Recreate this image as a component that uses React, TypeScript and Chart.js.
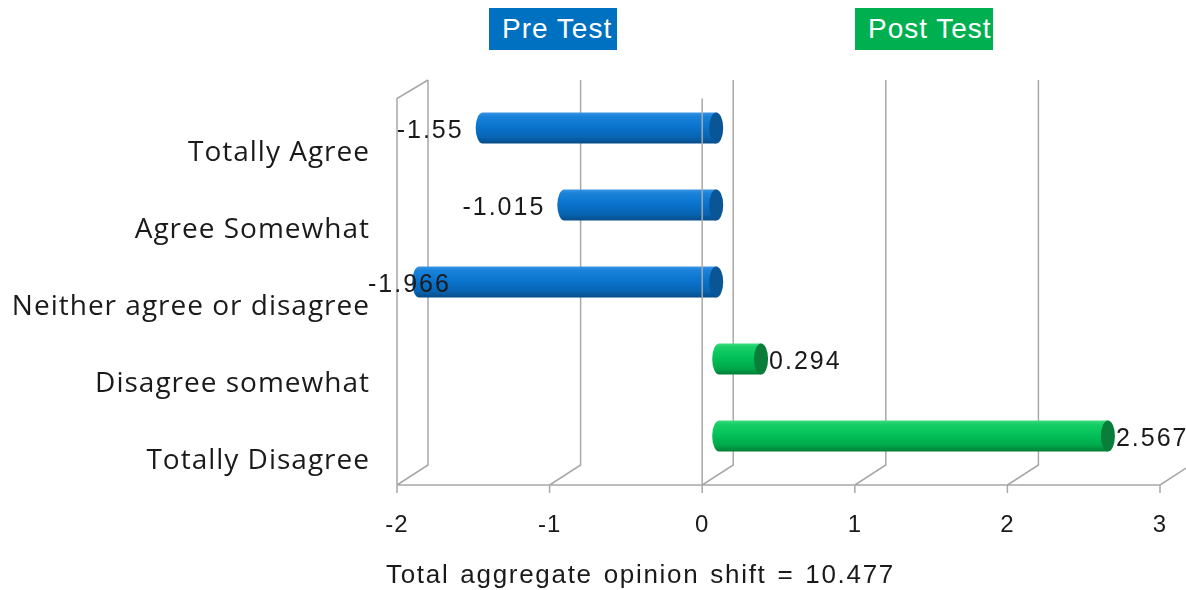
import React, { useEffect, useRef } from "react";
import { Chart, registerables } from "chart.js";
Chart.register(...registerables);

const categories = [
  "Totally Agree",
  "Agree Somewhat",
  "Neither agree or disagree",
  "Disagree somewhat",
  "Totally Disagree",
];
const preTest = [-1.55, -1.015, -1.966, null, null];
const postTest = [null, null, null, 0.294, 2.567];
const seriesNames = ["Pre Test", "Post Test"];
const xMin = -2;
const xMax = 3;
const caption = "Total aggregate opinion shift = 10.477";

const BLUE = "#0070C0";
const GREEN = "#00B050";

const depthPlugin = {
  id: "depth3d",
  beforeDraw(chart: any) {
    (chart.ctx as any).letterSpacing = "1px";
  },
  beforeDatasetsDraw(chart: any) {
    const { ctx, chartArea: a, scales } = chart;
    const x = scales.x;
    const fx = (v: number) => x.getPixelForValue(v) - 10;
    const bx = (v: number) => x.getPixelForValue(v) + 21;
    const fTop = a.top + 9;
    const fBot = a.bottom + 10.5;
    const bTop = a.top - 9.5;
    const bBot = a.bottom - 9.5;
    ctx.save();
    ctx.strokeStyle = "#a8a8a8";
    ctx.lineWidth = 1.5;
    ctx.beginPath();
    x.ticks.forEach((t: any) => {
      const v = t.value;
      ctx.moveTo(bx(v), bTop);
      ctx.lineTo(bx(v), bBot);
      ctx.lineTo(fx(v), fBot);
      ctx.lineTo(fx(v), fBot + 8);
    });
    ctx.moveTo(fx(x.min), fBot);
    ctx.lineTo(fx(x.max), fBot);
    ctx.moveTo(fx(x.min), fBot);
    ctx.lineTo(fx(x.min), fTop);
    ctx.lineTo(bx(x.min), bTop);
    ctx.stroke();
    ctx.restore();
  },
  afterDatasetsDraw(chart: any) {
    const { ctx, chartArea: a, scales } = chart;
    const x = scales.x;
    const rx = 7;
    const items: any[] = [];
    chart.data.datasets.forEach((ds: any, i: number) => {
      const meta = chart.getDatasetMeta(i);
      meta.data.forEach((bar: any, j: number) => {
        const val = ds.data[j];
        if (val === null || val === undefined) return;
        const p = bar.getProps(["x", "base", "y", "height"], true);
        const left = Math.min(p.x, p.base);
        const right = Math.max(p.x, p.base) + 4;
        const h = p.height;
        const top = p.y - h / 2;
        const neg = val < 0;
        const g = ctx.createLinearGradient(0, top, 0, top + h);
        if (neg) {
          g.addColorStop(0, "#3a95e6");
          g.addColorStop(0.12, "#1a82d9");
          g.addColorStop(0.45, "#0a74ce");
          g.addColorStop(0.8, "#0864b2");
          g.addColorStop(1, "#064c88");
        } else {
          g.addColorStop(0, "#3ddc7e");
          g.addColorStop(0.12, "#15cf66");
          g.addColorStop(0.45, "#03c158");
          g.addColorStop(0.8, "#00a84a");
          g.addColorStop(1, "#007d36");
        }
        ctx.save();
        ctx.beginPath();
        ctx.moveTo(left + rx, top);
        ctx.lineTo(right, top);
        ctx.lineTo(right, top + h);
        ctx.lineTo(left + rx, top + h);
        ctx.ellipse(left + rx, p.y, rx, h / 2, 0, Math.PI / 2, (3 * Math.PI) / 2);
        ctx.closePath();
        ctx.fillStyle = g;
        ctx.fill();
        ctx.beginPath();
        ctx.ellipse(right, p.y, rx, h / 2, 0, 0, Math.PI * 2);
        ctx.fillStyle = neg ? "#0a5596" : "#0a7d3a";
        ctx.fill();
        ctx.restore();
        items.push({ val, left, right, y: p.y });
      });
    });
    // front zero line, over the bars
    const zx = x.getPixelForValue(0) - 10;
    ctx.save();
    ctx.strokeStyle = "#a8a8a8";
    ctx.lineWidth = 1.5;
    ctx.beginPath();
    ctx.moveTo(zx, a.top + 9);
    ctx.lineTo(zx, a.bottom + 10.5);
    ctx.stroke();
    ctx.restore();
    // data labels
    ctx.save();
    ctx.font = '25px "Liberation Sans", Arial, sans-serif';
    (ctx as any).letterSpacing = "2px";
    ctx.fillStyle = "#1a1a1a";
    ctx.textBaseline = "middle";
    items.forEach((it) => {
      const txt = String(it.val);
      const w = ctx.measureText(txt).width;
      if (it.val < 0) {
        ctx.textAlign = "right";
        let tx = it.left - 12;
        const minLeft = a.left - 39;
        if (tx - w < minLeft) tx = minLeft + w;
        ctx.fillText(txt, tx, it.y + 3);
      } else {
        ctx.textAlign = "left";
        ctx.fillText(txt, it.right + rx + 1, it.y + 3);
      }
    });
    ctx.restore();
  },
};

export default function App() {
  const ref = useRef<HTMLCanvasElement | null>(null);
  useEffect(() => {
    if (!ref.current) return;
    const chart = new Chart(ref.current, {
      type: "bar",
      data: {
        labels: categories,
        datasets: [
          {
            label: seriesNames[0],
            data: preTest,
            backgroundColor: "rgba(0,0,0,0)",
            borderWidth: 0,
            barThickness: 31,
          },
          {
            label: seriesNames[1],
            data: postTest,
            backgroundColor: "rgba(0,0,0,0)",
            borderWidth: 0,
            barThickness: 31,
          },
        ],
      },
      options: {
        indexAxis: "y",
        responsive: false,
        animation: false,
        devicePixelRatio: 1,
        layout: { padding: { top: 89.5, right: 16, bottom: 0, left: 0 } },
        plugins: { legend: { display: false }, tooltip: { enabled: false } },
        scales: {
          x: {
            type: "linear",
            min: xMin,
            max: xMax,
            stacked: true,
            grid: { display: false, drawTicks: false },
            border: { display: false },
            ticks: {
              stepSize: 1,
              padding: 36,
              labelOffset: -10,
              color: "#1a1a1a",
              font: { family: '"Liberation Sans", Arial, sans-serif', size: 24 },
            },
            afterFit(scale: any) {
              scale.height = 115.5;
              scale.paddingLeft = 0;
              scale.paddingRight = 0;
            },
          },
          y: {
            stacked: true,
            grid: { display: false, drawTicks: false },
            border: { display: false },
            ticks: {
              padding: 37,
              labelOffset: 25,
              color: "#1a1a1a",
              font: { family: '"Open Sans", sans-serif', size: 28 },
            },
            afterFit(scale: any) {
              scale.width = 407;
              scale.paddingTop = 0;
              scale.paddingBottom = 0;
            },
          },
        },
      } as any,
      plugins: [depthPlugin],
    });
    return () => chart.destroy();
  }, []);

  const boxStyle = (left: number, width: number, bg: string): React.CSSProperties => ({
    position: "absolute",
    left,
    top: 8,
    width,
    height: 42,
    background: bg,
    color: "#fff",
    fontFamily: '"Liberation Sans", Arial, sans-serif',
    fontSize: 28,
    letterSpacing: "1px",
    lineHeight: "42px",
    paddingLeft: 13,
    boxSizing: "border-box",
    whiteSpace: "nowrap",
    overflow: "hidden",
  });

  return (
    <div
      style={{
        position: "fixed",
        left: 0,
        top: 0,
        width: 1186,
        height: 590,
        background: "#fff",
        overflow: "hidden",
      }}
    >
      <canvas ref={ref} width={1186} height={590} style={{ position: "absolute", left: 0, top: 0 }} />
      <div style={boxStyle(489, 128, BLUE)}>{seriesNames[0]}</div>
      <div style={boxStyle(855, 138, GREEN)}>{seriesNames[1]}</div>
      <div
        style={{
          position: "absolute",
          left: 386,
          top: 559,
          fontFamily: '"Liberation Sans", Arial, sans-serif',
          fontSize: 26,
          letterSpacing: "1.7px",
          wordSpacing: "2px",
          lineHeight: "30px",
          color: "#1a1a1a",
          whiteSpace: "nowrap",
        }}
      >
        {caption}
      </div>
    </div>
  );
}
